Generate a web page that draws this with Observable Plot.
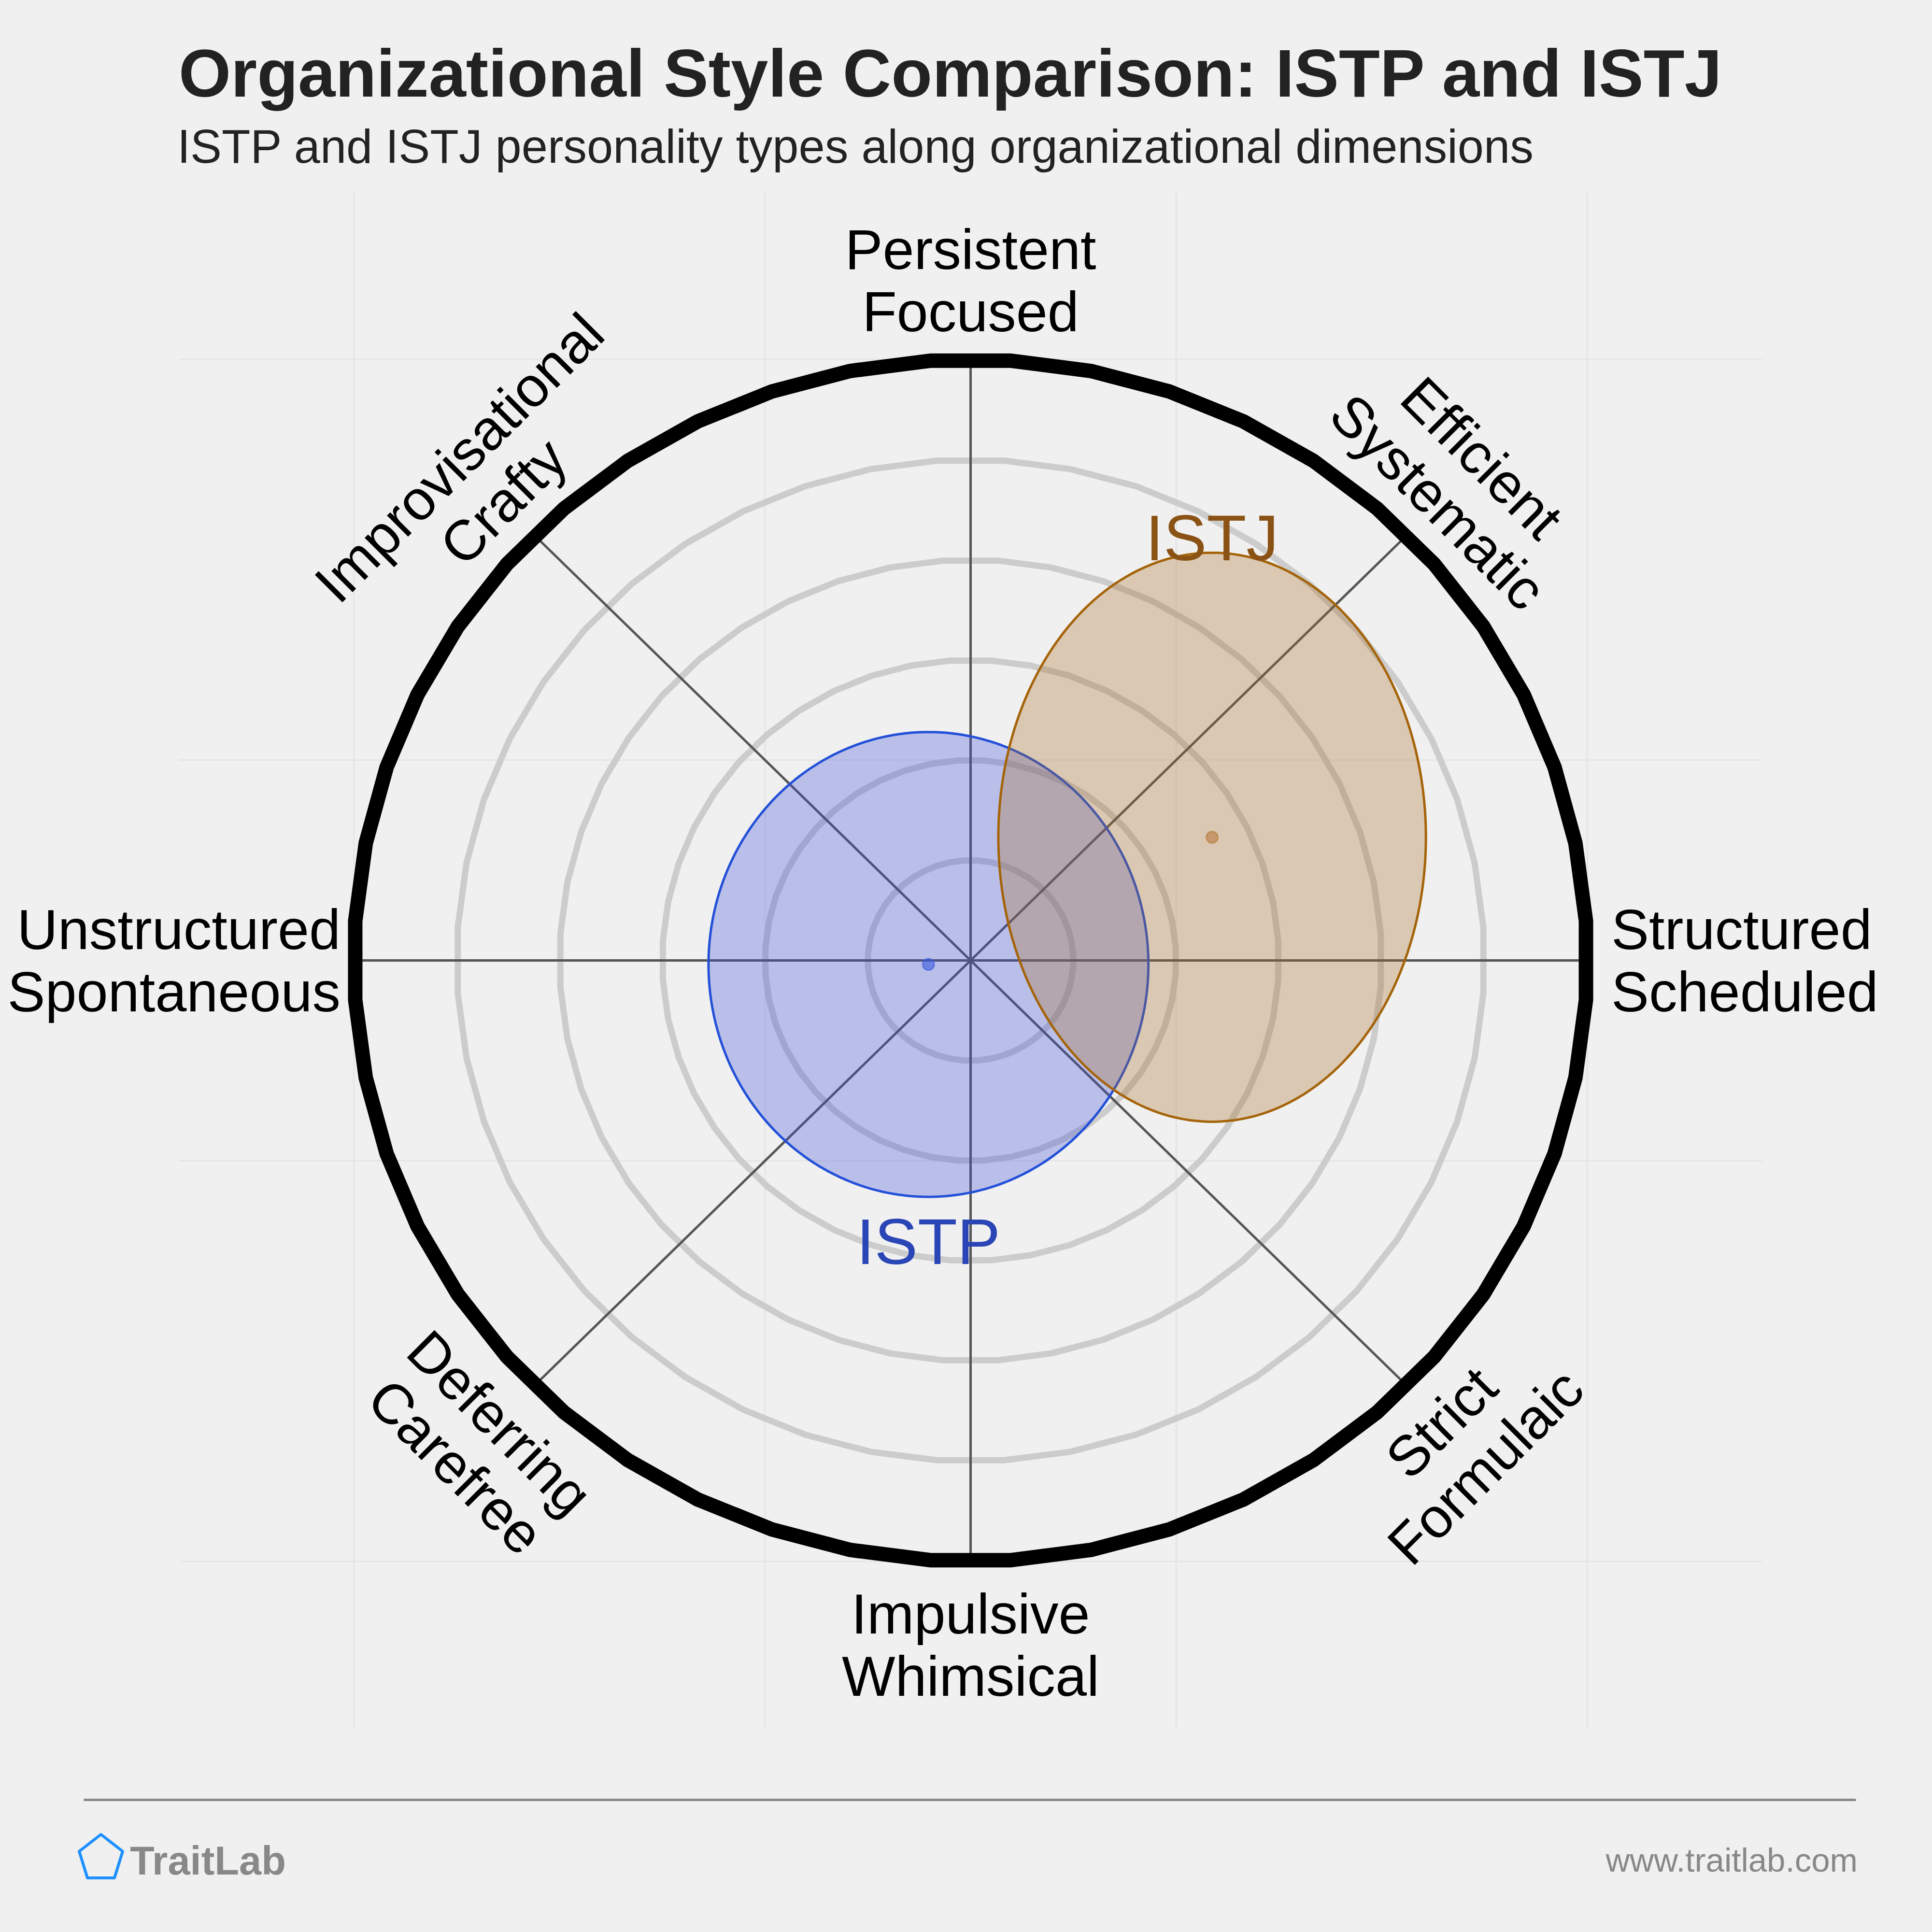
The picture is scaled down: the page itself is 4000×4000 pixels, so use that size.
<!DOCTYPE html>
<html><head><meta charset="utf-8">
<script src="https://cdn.jsdelivr.net/npm/d3@7"></script>
<script src="https://cdn.jsdelivr.net/npm/@observablehq/plot@0.6"></script>
<style>
html,body{margin:0;padding:0;background:#f0f0f0;}
body{width:4000px;height:4000px;overflow:hidden;font-family:"Liberation Sans",Arial,Helvetica,sans-serif;}
#header{position:relative;height:380px;}
#footer{position:relative;height:320px;}
.t{position:absolute;white-space:nowrap;line-height:1;}
#chart svg{display:block;}
</style></head><body>
<div id="header">
  <div id="title" class="t" style="left:370px;top:82px;font-size:139px;font-weight:bold;color:#222"></div>
  <div id="subtitle" class="t" style="left:367px;top:255px;font-size:97.4px;color:#222"></div>
</div>
<div id="chart"></div>
<div id="footer">
  <div style="position:absolute;left:173px;top:44px;width:3670px;height:5px;background:#888;border-radius:3px"></div>
  <svg style="position:absolute;left:155px;top:110px" width="110" height="110" viewBox="155 110 110 110">
    <polygon points="209,118 254,153 237,208 181,208 164,153" fill="none" stroke="#1e90ff" stroke-width="6" stroke-linejoin="round"/>
  </svg>
  <div id="brand" class="t" style="left:269px;top:131px;font-size:83px;font-weight:bold;color:#888"></div>
  <div id="site" class="t" style="right:154px;top:137px;font-size:69px;color:#888"></div>
</div>
<script>
const titleText = "Organizational Style Comparison: ISTP and ISTJ";
const subtitleText = "ISTP and ISTJ personality types along organizational dimensions";
const brandText = "TraitLab";
const siteText = "www.traitlab.com";

// axes (clockwise from top)
const dimensions = ["Persistent\nFocused", "Efficient\nSystematic", "Structured\nScheduled", "Strict\nFormulaic",
  "Impulsive\nWhimsical", "Deferring\nCarefree", "Unstructured\nSpontaneous", "Improvisational\nCrafty"];
const dimensionAngles = [0, 45, 90, 135, 180, 225, 270, 315];
const ringLevels = [1, 2, 3, 4, 5];
const outerLevel = 6;
const gridTicks = [-6, -2, 2, 6];

// personality types
const types = ["ISTP", "ISTJ"];
const centerX = [-0.41, 2.35];
const centerY = [-0.04, 1.23];
const radiusX = [2.14, 2.08];
const radiusY = [2.32, 2.84];

document.getElementById("title").textContent = titleText;
document.getElementById("subtitle").textContent = subtitleText;
document.getElementById("brand").textContent = brandText;
document.getElementById("site").textContent = siteText;

const FONT = '"Liberation Sans", Arial, Helvetica, sans-serif';
const W = 4000, H = 3300, cx0 = 2009, cy0 = 1608, unitX = 212.8, unitY = 207.4;
const SIDES = 48;
const rad = a => a * Math.PI / 180;

// polygonal rings
function ring(level) {
  const pts = [];
  for (let k = 0; k < SIDES; k++) {
    const a = (k + 0.5) * 2 * Math.PI / SIDES;
    pts.push({level, x: level * Math.sin(a), y: level * Math.cos(a)});
  }
  return pts;
}
const ringPts = ringLevels.flatMap(ring);
const outerPts = ring(outerLevel);

const spokes = dimensionAngles.map(a => ({x2: outerLevel * Math.sin(rad(a)), y2: outerLevel * Math.cos(rad(a))}));

// label radius (x for side / diagonal labels, y for all)
const labelRadiusX = {0: 6.13, 45: 6.24, 90: 6.13, 135: 6.24, 180: 6.13, 225: 6.24, 270: 6.13, 315: 6.24};
const labelRadiusY = 6.28;
const labels = dimensions.map((t, i) => {
  const a = dimensionAngles[i];
  return {text: t, angle: a, x: labelRadiusX[a] * Math.sin(rad(a)), y: labelRadiusY * Math.cos(rad(a))};
});
const sel = (angles) => labels.filter(d => angles.includes(d.angle));

function ellipse(i) {
  const pts = [];
  for (let k = 0; k < 240; k++) {
    const t = k / 240 * 2 * Math.PI;
    pts.push({x: centerX[i] + radiusX[i] * Math.cos(t), y: centerY[i] + radiusY[i] * Math.sin(t)});
  }
  return pts;
}
const typeRows = types.map((t, i) => ({type: t, x: centerX[i], y: centerY[i], top: centerY[i] + radiusY[i], bottom: centerY[i] - radiusY[i]}));

const textOpts = {x: "x", y: "y", text: "text", fontSize: 117, lineHeight: 1.1, fill: "#000", fontFamily: FONT};

const chart = Plot.plot({
  width: W, height: H, margin: 0,
  x: {domain: [-6, 6], range: [cx0 - 6 * unitX, cx0 + 6 * unitX], axis: null},
  y: {domain: [-6, 6], range: [cy0 + 6 * unitY, cy0 - 6 * unitY], axis: null},
  style: {background: "#f0f0f0", fontFamily: FONT, overflow: "visible"},
  marks: [
    Plot.ruleX(gridTicks, {x: d => d, y1: () => -7.66, y2: () => 7.66, stroke: "#e5e5e5", strokeWidth: 3}),
    Plot.ruleY(gridTicks, {y: d => d, x1: () => -7.7, x2: () => 7.7, stroke: "#e5e5e5", strokeWidth: 3}),
    Plot.line(ringPts, {x: "x", y: "y", z: "level", curve: "linear-closed", stroke: "#cccccc", strokeWidth: 13}),
    Plot.link(spokes, {x1: () => 0, y1: () => 0, x2: "x2", y2: "y2", stroke: "#555", strokeWidth: 5}),
    Plot.line(outerPts, {x: "x", y: "y", curve: "linear-closed", stroke: "#000", strokeWidth: 30}),
    Plot.line(ellipse(0), {x: "x", y: "y", curve: "linear-closed", fill: "#3c50dc", fillOpacity: 0.3, stroke: "#2350d8", strokeWidth: 5}),
    Plot.line(ellipse(1), {x: "x", y: "y", curve: "linear-closed", fill: "#aa6e28", fillOpacity: 0.3, stroke: "#a5640a", strokeWidth: 5}),
    Plot.dot([typeRows[0]], {x: "x", y: "y", r: 12, fill: "#3a5be0", fillOpacity: 0.6, stroke: "#3a5be0", strokeOpacity: 0.6, strokeWidth: 3}),
    Plot.dot([typeRows[1]], {x: "x", y: "y", r: 12, fill: "#b8793a", fillOpacity: 0.6, stroke: "#b8793a", strokeOpacity: 0.6, strokeWidth: 3}),
    Plot.text([typeRows[0]], {x: "x", y: "bottom", text: "type", fontSize: 134, lineAnchor: "top", dy: 44, fill: "#2a45b5", fontFamily: FONT}),
    Plot.text([typeRows[1]], {x: "x", y: "top", text: "type", fontSize: 134, lineAnchor: "bottom", dy: 16, fill: "#8b5216", fontFamily: FONT}),
    Plot.text(sel([0]), {...textOpts, textAnchor: "middle", lineAnchor: "bottom"}),
    Plot.text(sel([45]), {...textOpts, textAnchor: "middle", lineAnchor: "bottom", rotate: 45}),
    Plot.text(sel([315]), {...textOpts, textAnchor: "middle", lineAnchor: "bottom", rotate: -45}),
    Plot.text(sel([180]), {...textOpts, textAnchor: "middle", lineAnchor: "top"}),
    Plot.text(sel([135]), {...textOpts, textAnchor: "middle", lineAnchor: "top", rotate: -45}),
    Plot.text(sel([225]), {...textOpts, textAnchor: "middle", lineAnchor: "top", rotate: 45}),
    Plot.text(sel([90]), {...textOpts, textAnchor: "start", lineAnchor: "middle", dx: 22}),
    Plot.text(sel([270]), {...textOpts, textAnchor: "end", lineAnchor: "middle"})
  ]
});
document.getElementById("chart").appendChild(chart);
</script>
</body></html>
